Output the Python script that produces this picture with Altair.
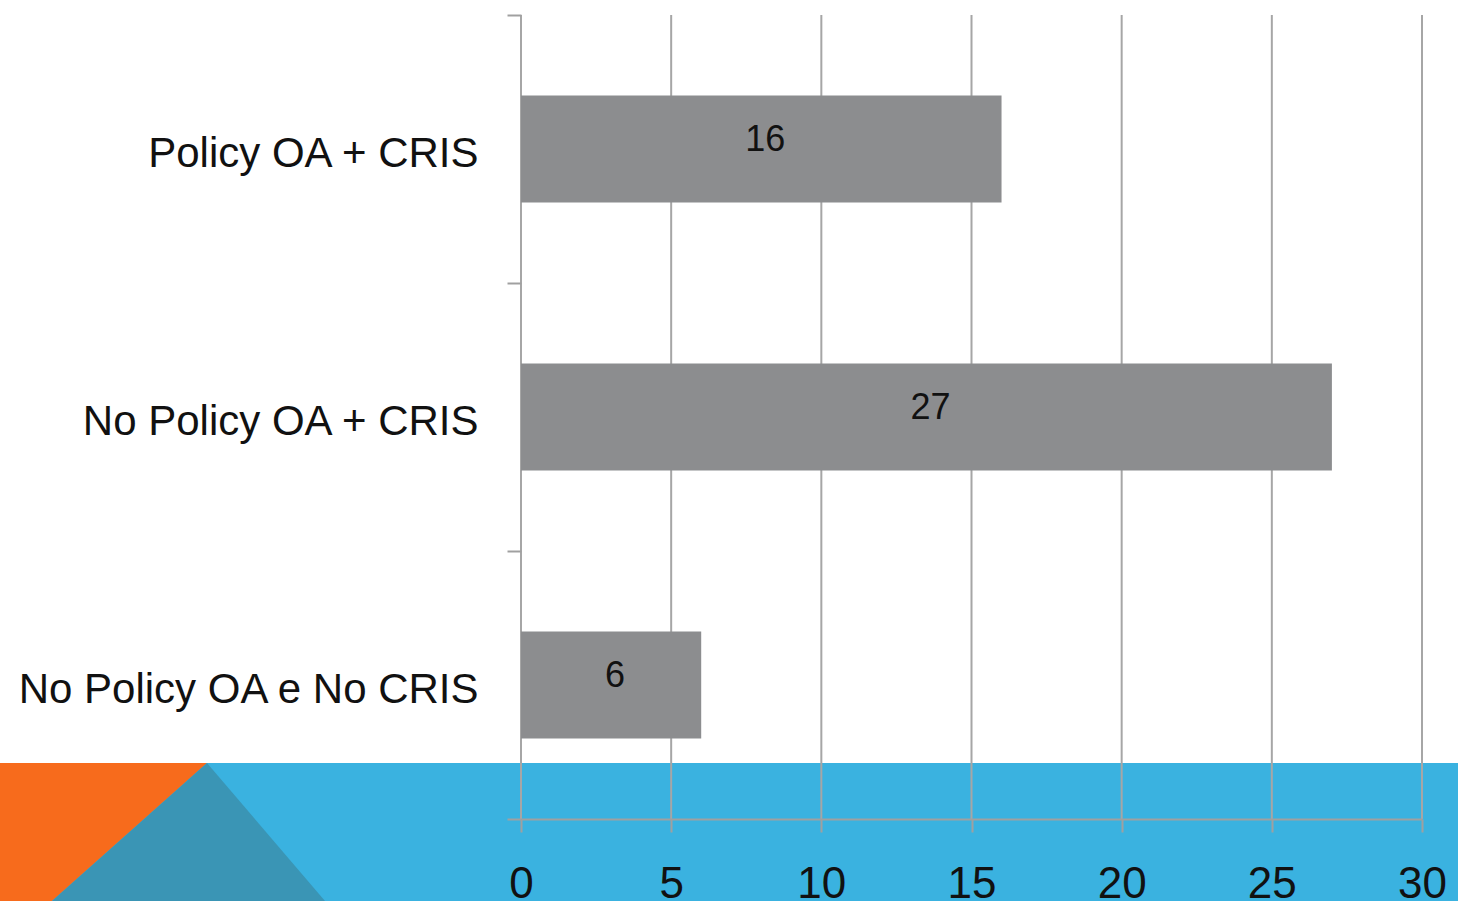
import altair as alt
import pandas as pd

# Survey counts per institutional category
categories = ["Policy OA + CRIS", "No Policy OA + CRIS", "No Policy OA e No CRIS"]
counts = [16, 27, 6]
x_ticks = [0, 5, 10, 15, 20, 25, 30]

# Slide footer decoration (canvas pixel units)
band_top, band_bottom, canvas_w = 763, 901, 1458
orange_x = [0, 52, 207]
orange_top = [763, 763, 763]
orange_bottom = [901, 901, 763]
teal_x = [52, 207, 325]
teal_top = [901, 763, 901]
teal_bottom = [901, 901, 901]

W, H = 901, 804
PAD = {"left": 521, "top": 15, "right": 36, "bottom": 82}
BAR_SIZE = 107

df = pd.DataFrame({"category": categories, "count": counts})
ticks_df = pd.DataFrame({"t": x_ticks})

# Pixel-space scales for the decorative footer
px_x = alt.Scale(domain=[PAD["left"], PAD["left"] + W], zero=False, nice=False)
px_y = alt.Scale(domain=[PAD["top"], PAD["top"] + H], zero=False, nice=False, reverse=True)

band_df = pd.DataFrame({"x": [0], "x2": [canvas_w], "y": [band_top], "y2": [band_bottom]})
blue_band = alt.Chart(band_df).mark_rect(color="#3AB2E0").encode(
    x=alt.X("x:Q", scale=px_x, axis=None),
    x2="x2:Q",
    y=alt.Y("y:Q", scale=px_y, axis=None),
    y2="y2:Q",
)

orange_df = pd.DataFrame({"x": orange_x, "y": orange_top, "y2": orange_bottom})
orange = alt.Chart(orange_df).mark_area(color="#F76B1C").encode(
    x=alt.X("x:Q", scale=px_x, axis=None),
    y=alt.Y("y:Q", scale=px_y, axis=None),
    y2="y2:Q",
)

teal_df = pd.DataFrame({"x": teal_x, "y": teal_top, "y2": teal_bottom})
teal = alt.Chart(teal_df).mark_area(color="#3A95B5").encode(
    x=alt.X("x:Q", scale=px_x, axis=None),
    y=alt.Y("y:Q", scale=px_y, axis=None),
    y2="y2:Q",
)

decor = alt.layer(blue_band, orange, teal)

x_scale = alt.Scale(domain=[0, 30], nice=False, zero=True)
y_scale = alt.Scale(domain=categories, paddingInner=0, paddingOuter=0)

x_axis = alt.Axis(
    values=x_ticks,
    grid=False,
    domainColor="#A0A0A0",
    domainWidth=2,
    tickColor="#A0A0A0",
    tickWidth=2,
    tickSize=13,
    labelFontSize=44,
    labelFont="Liberation Sans",
    labelColor="#111111",
    labelPadding=30,
    labelFlush=False,
    title=None,
    zindex=2,
)

y_axis = alt.Axis(
    domain=False,
    tickBand="extent",
    tickColor="#A0A0A0",
    tickWidth=2,
    tickSize=14,
    labelFontSize=42,
    labelFont="Liberation Sans",
    labelColor="#111111",
    labelPadding=29,
    labelOffset=4,
    labelLimit=600,
    title=None,
    zindex=2,
)

grid = alt.Chart(ticks_df).mark_rule(color="#A6A6A6", strokeWidth=2).encode(
    x=alt.X("t:Q", scale=x_scale, axis=x_axis),
    y=alt.value(0),
    y2=alt.value(H),
)

bars = alt.Chart(df).mark_bar(color="#8C8D8F", size=BAR_SIZE).encode(
    x=alt.X("count:Q", scale=x_scale, axis=x_axis),
    y=alt.Y("category:N", scale=y_scale, sort=categories, axis=y_axis),
)

labels = alt.Chart(df).transform_calculate(
    mid="datum.count / 2"
).mark_text(
    font="Liberation Sans", fontSize=36, color="#111111", dx=4, dy=-9,
    align="center", baseline="middle",
).encode(
    x=alt.X("mid:Q", scale=x_scale, axis=x_axis),
    y=alt.Y("category:N", scale=y_scale, sort=categories, axis=y_axis),
    text="count:Q",
)

main = alt.layer(grid, bars, labels)

chart = alt.layer(decor, main).resolve_scale(
    x="independent", y="independent"
).properties(
    width=W,
    height=H,
    padding=PAD,
    autosize=alt.AutoSizeParams(type="none"),
    background="white",
).configure_view(stroke=None)

chart.save("out.html", embed_options={"renderer": "svg", "actions": False})
